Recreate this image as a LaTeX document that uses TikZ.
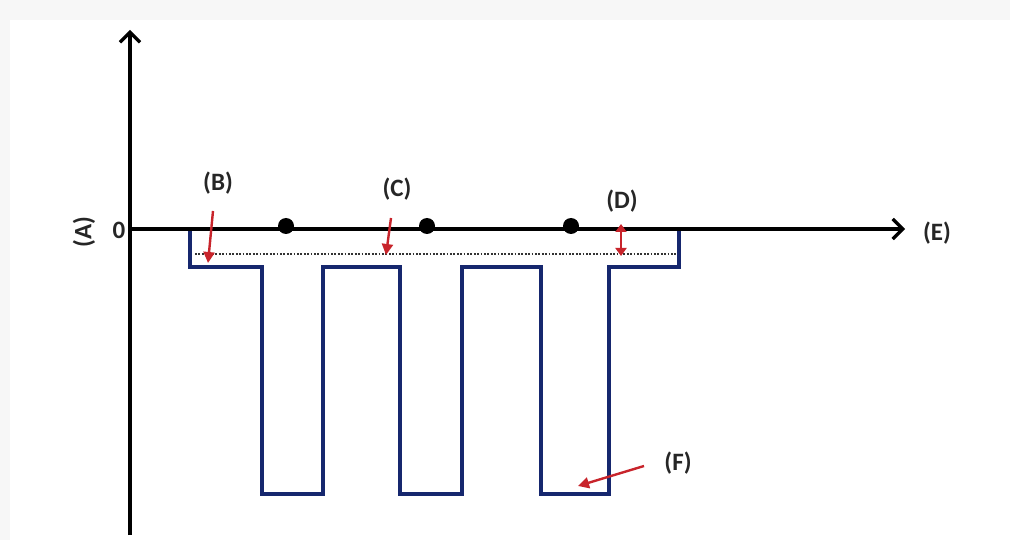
\documentclass[tikz,border=0pt]{standalone}
\usepackage{fontspec}
\setmainfont{Carlito}
\usetikzlibrary{arrows.meta}
\definecolor{wellblue}{HTML}{16276E}
\definecolor{markred}{HTML}{C8242B}
\definecolor{framegray}{HTML}{F7F7F7}
\begin{document}
\begin{tikzpicture}[x=1pt,y=-1pt,
  axis/.style={line width=3.4pt,black,-{Straight Barb[length=10pt,width=20pt,line width=3.2pt]}},
  well/.style={line width=4pt,wellblue,line join=miter},
  redarrow/.style={line width=2.4pt,markred,-{Triangle[length=11pt,width=11pt]}},
  reddouble/.style={line width=2.2pt,markred,{Triangle[length=8pt,width=11pt]}-{Triangle[length=8pt,width=11pt]}},
  lbl/.style={font=\fontsize{25}{28}\selectfont\bfseries,text=black!85,inner sep=0pt},
  dot/.style={circle,fill=black,minimum size=16pt,inner sep=0pt}]
\fill[framegray] (0,0) rectangle (1010,540);
\fill[white] (10,20) rectangle (1010,540);
\useasboundingbox (0,0) rectangle (1010,540);
% coordinates
\coordinate (yb) at (130,535);
\coordinate (yt) at (130,30);
\coordinate (xo) at (130,229);
\coordinate (xe) at (905,229);
% well profile
\draw[well] (190,229) -- (190,267) -- (262,267) -- (262,494) -- (323,494) -- (323,267)
  -- (400,267) -- (400,494) -- (462,494) -- (462,267) -- (541,267) -- (541,494)
  -- (609,494) -- (609,267) -- (679,267) -- (679,229) -- (741,229);
% axes
\draw[axis] (yb) -- (yt);
\draw[axis] (xo) -- (xe);
% dotted level
\draw[line width=1.6pt,black!80,dash pattern=on 1.8pt off 1.6pt] (195,254) -- (676,254);
% dots
\node[dot] (d1) at (286,226) {};
\node[dot] (d2) at (427,226) {};
\node[dot] (d3) at (571,226) {};
% labels
\node[lbl] (zero) at (119,230) {0};
\node[lbl,rotate=90] (A) at (84,232) {(A)};
\node[lbl] (B) at (218,183) {(B)};
\node[lbl] (C) at (397,189) {(C)};
\node[lbl] (D) at (622,201) {(D)};
\node[lbl] (E) at (937,233) {(E)};
\node[lbl] (F) at (678,463) {(F)};
% red markers
\coordinate (b1) at (213,211); \coordinate (b2) at (208,263);
\coordinate (c1) at (391,218); \coordinate (c2) at (386,255);
\coordinate (e1) at (621,224); \coordinate (e2) at (621,256);
\coordinate (f1) at (644,466); \coordinate (f2) at (578,486);
\draw[redarrow] (b1) -- (b2);
\draw[redarrow] (c1) -- (c2);
\draw[reddouble] (e1) -- (e2);
\draw[redarrow] (f1) -- (f2);
\end{tikzpicture}
\end{document}
